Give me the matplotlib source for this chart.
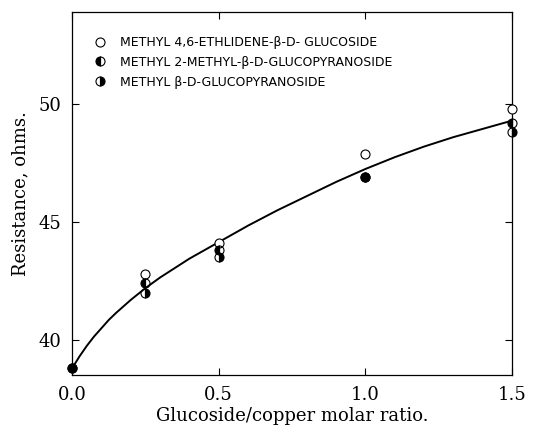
import numpy as np
import matplotlib.pyplot as plt

# ---------- data ----------
ratio = [0.0, 0.25, 0.5, 1.0, 1.5]

ethylidene = [None, 42.8, 44.1, 47.9, 49.8]      # open circles
methyl2 = [38.8, 42.4, 43.8, 46.9, 49.2]          # left half filled
glucopyr = [38.8, 42.0, 43.5, 46.9, 48.8]         # right half filled

curve_x = [0.0, 0.025, 0.05, 0.075, 0.1, 0.125, 0.15, 0.2, 0.25, 0.3, 0.35,
           0.4, 0.5, 0.6, 0.7, 0.8, 0.9, 1.0, 1.1, 1.2, 1.3, 1.4, 1.5]
curve_y = [38.8, 39.3, 39.75, 40.15, 40.5, 40.85, 41.15, 41.7, 42.2, 42.65,
           43.05, 43.45, 44.15, 44.85, 45.5, 46.1, 46.7, 47.25, 47.75, 48.2,
           48.6, 48.95, 49.3]

labels = ["METHYL 4,6-ETHLIDENE-\u03b2-D- GLUCOSIDE",
          "METHYL 2-METHYL-\u03b2-D-GLUCOPYRANOSIDE",
          "METHYL \u03b2-D-GLUCOPYRANOSIDE"]

# ---------- plot ----------
fig = plt.figure(figsize=(5.5, 4.32), dpi=100)
ax = fig.add_axes([0.131, 0.132, 0.80, 0.840])

ax.plot(curve_x, curve_y, color='black', lw=1.4, zorder=2, solid_capstyle='round')

xe = [x for x, y in zip(ratio, ethylidene) if y is not None]
ye = [y for y in ethylidene if y is not None]
ax.plot(xe, ye, 'o', ms=6.5, mfc='white', mec='black', mew=0.8, label=labels[0],
        zorder=3, clip_on=False)
ax.plot(ratio, methyl2, 'o', ms=6.5, fillstyle='left', mfc='black', mfcalt='none',
        mec='black', mew=0.8, label=labels[1], zorder=3, clip_on=False)
ax.plot(ratio, glucopyr, 'o', ms=6.5, fillstyle='right', mfc='black', mfcalt='none',
        mec='black', mew=0.8, label=labels[2], zorder=3, clip_on=False)

ax.set_xlim(0, 1.5)
ax.set_ylim(38.52, 53.9)
ax.set_xticks([0.0, 0.5, 1.0, 1.5])
ax.set_xticklabels(['0.0', '0.5', '1.0', '1.5'])
ax.set_yticks([40, 45, 50])
ax.tick_params(direction='in', top=True, right=True, length=5, labelsize=13, pad=8)
for lab in ax.get_xticklabels() + ax.get_yticklabels():
    lab.set_family('DejaVu Serif')
for s in ax.spines.values():
    s.set_linewidth(0.9)
    s.set_linestyle((0, (6, 1)))

ax.set_xlabel("Glucoside/copper molar ratio.", family='DejaVu Serif', fontsize=13, labelpad=2)
ax.set_ylabel("Resistance, ohms.", family='DejaVu Serif', fontsize=13, labelpad=6)

leg = ax.legend(loc='upper left', bbox_to_anchor=(0.039, 0.948), borderaxespad=0,
                frameon=False, prop={'family': 'DejaVu Sans', 'size': 9},
                handletextpad=1.1, labelspacing=0.55, handlelength=1.0)

fig.savefig('out.png', dpi=100)
